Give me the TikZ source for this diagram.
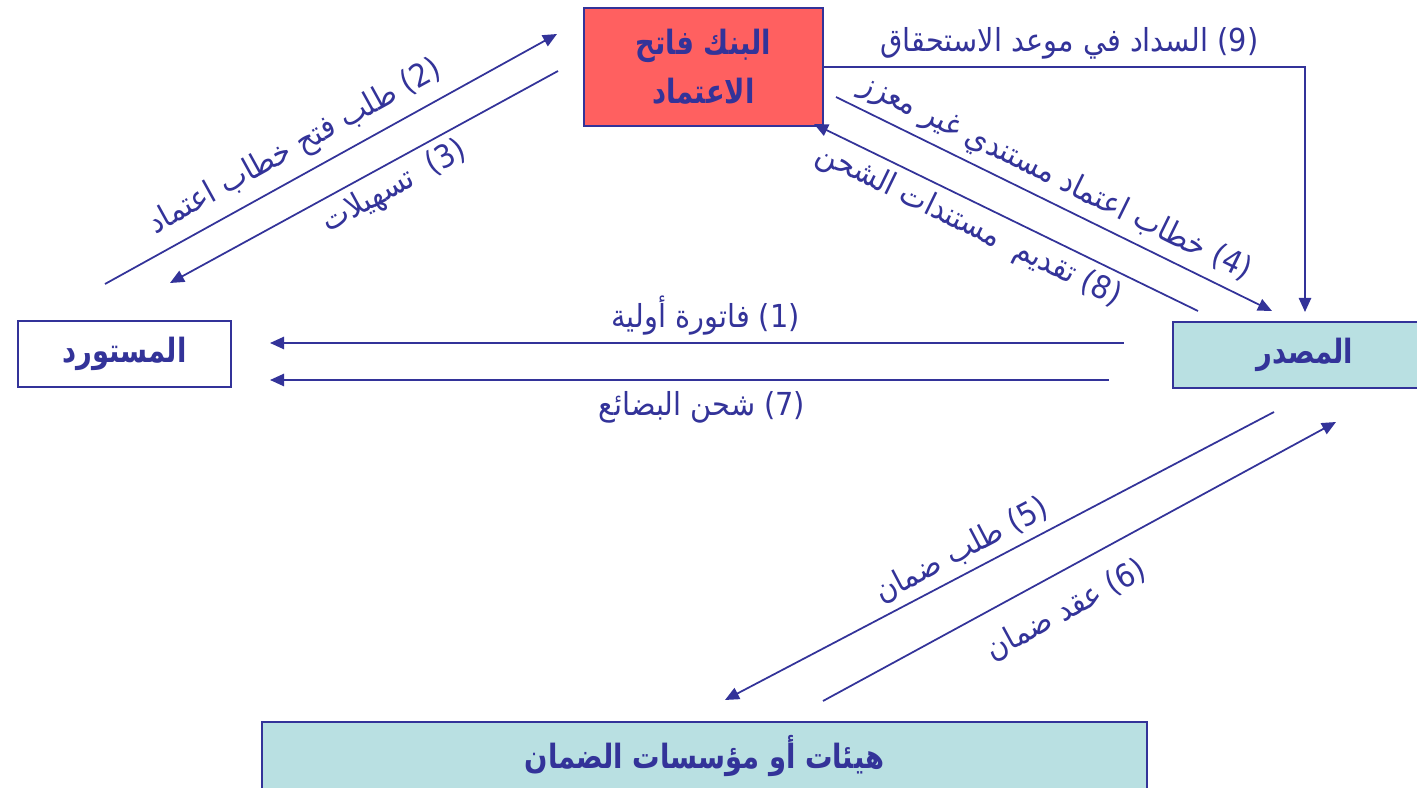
\documentclass[tikz,border=0pt]{standalone}
\usepackage{fontspec}
\usepackage{xcolor}
\usetikzlibrary{arrows.meta,positioning}
\TeXXeTstate=1
\newfontfamily\arabicfont[Script=Arabic,FakeStretch=0.91]{DejaVu Sans}
\newfontfamily\boxfont[Script=Arabic,FakeStretch=0.82]{DejaVu Sans}
\newcommand{\artext}[1]{\beginR#1\endR}
\definecolor{navy}{RGB}{51,51,153}
\definecolor{bankred}{RGB}{255,96,96}
\definecolor{paleteal}{RGB}{185,224,226}
\tikzset{
  >={Triangle[length=4pt,width=3.5pt]},
  box/.style={draw=navy, line width=0.7pt, text=navy, align=center, inner sep=0pt,
    font=\boxfont\bfseries\fontsize{9.5}{14}\selectfont},
  flow/.style={draw=navy, line width=0.5pt},
  lbl/.style={text=navy, sloped, inner sep=2pt, font=\arabicfont\fontsize{9}{11}\selectfont},
}
\begin{document}
\begin{tikzpicture}[x=0.01cm,y=-0.01cm]
\useasboundingbox (0,0) rectangle (1417,788);
\clip (0,0) rectangle (1417,788);

\node[box, fill=bankred, minimum width=2.39cm, minimum height=1.18cm] (bank) at (703.5,67)
  {\artext{البنك فاتح}\\\artext{الاعتماد}};
\node[box, fill=white, minimum width=2.13cm, minimum height=0.66cm] (importer) at (124.5,354)
  {\artext{المستورد}};
\node[box, fill=paleteal, minimum width=2.64cm, minimum height=0.66cm] (exporter) at (1305,355)
  {\artext{المصدر}};
\node[box, fill=paleteal, minimum width=8.85cm, minimum height=0.68cm] (insurer) at (704.5,756)
  {\artext{هيئات أو مؤسسات الضمان}};

\coordinate (r1s) at (270,343);  \coordinate (r1e) at (1124,343);
\coordinate (r2s) at (105,284);  \coordinate (r2e) at (557,34);
\coordinate (r3s) at (170,283);  \coordinate (r3e) at (558,71);
\coordinate (r4s) at (836,97);   \coordinate (r4e) at (1272,311);
\coordinate (r5s) at (725,700);  \coordinate (r5e) at (1274,412);
\coordinate (r6s) at (823,701);  \coordinate (r6e) at (1336,422);
\coordinate (r7s) at (270,380);  \coordinate (r7e) at (1109,380);
\coordinate (r8s) at (814,124);  \coordinate (r8e) at (1198,311);
\coordinate (r9c) at (1305,67);  \coordinate (r9e) at (1305,312);

\draw[flow,<-] (r1s) -- node[lbl, above, pos=0.51] {\artext{\beginL(1)\endL{} فاتورة أولية}} (r1e);
\draw[flow,->] (r2s) -- node[lbl, above=1pt, pos=0.45] {\artext{\beginL(2)\endL{} طلب فتح خطاب اعتماد}} (r2e);
\draw[flow,<-] (r3s) -- node[lbl, below, pos=0.55] {\artext{\beginL(3)\endL\ \ تسهيلات}} (r3e);
\draw[flow,->] (r4s) -- node[lbl, above, pos=0.48] {\artext{\beginL(4)\endL{} خطاب اعتماد مستندي غير معزز}} (r4e);
\draw[flow,<-] (r5s) -- node[lbl, above, pos=0.45] {\artext{\beginL(5)\endL{} طلب ضمان}} (r5e);
\draw[flow,->] (r6s) -- node[lbl, below=4pt, pos=0.44] {\artext{\beginL(6)\endL{} عقد ضمان}} (r6e);
\draw[flow,<-] (r7s) -- node[lbl, below=1pt, pos=0.515] {\artext{\beginL(7)\endL{} شحن البضائع}} (r7e);
\draw[flow,<-] (r8s) -- node[lbl, below, pos=0.43] {\artext{\beginL(8)\endL{} تقديم\ \ مستندات الشحن}} (r8e);
\draw[flow,->] (bank.east) -- node[lbl, above, pos=0.51] {\artext{\beginL(9)\endL{} السداد في موعد الاستحقاق}} (r9c) -- (r9e);
\end{tikzpicture}
\end{document}
